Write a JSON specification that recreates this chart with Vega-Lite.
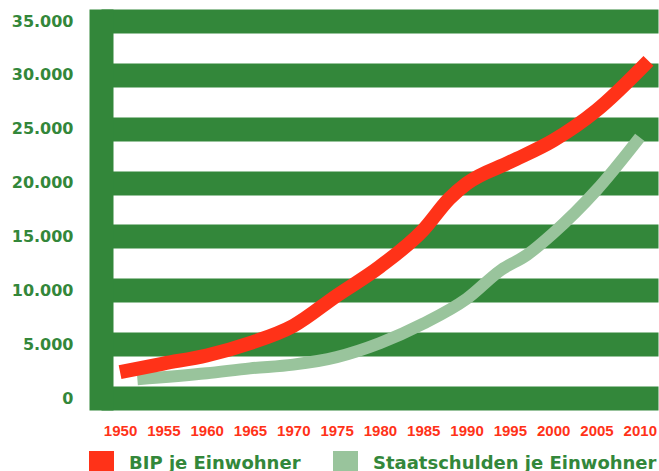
{
  "$schema": "https://vega.github.io/schema/vega-lite/v6.json",
  "width": 557,
  "height": 377,
  "autosize": "none",
  "padding": {"left": 101, "top": 21, "right": 1, "bottom": 73},
  "background": "white",
  "config": {"view": {"stroke": null}},
  "datasets": {
    "bip": [
      {"jahr": 1950, "wert": 2400, "serie": "BIP je Einwohner"},
      {"jahr": 1955, "wert": 3200, "serie": "BIP je Einwohner"},
      {"jahr": 1960, "wert": 3950, "serie": "BIP je Einwohner"},
      {"jahr": 1965, "wert": 5100, "serie": "BIP je Einwohner"},
      {"jahr": 1970, "wert": 6700, "serie": "BIP je Einwohner"},
      {"jahr": 1975, "wert": 9500, "serie": "BIP je Einwohner"},
      {"jahr": 1980, "wert": 12200, "serie": "BIP je Einwohner"},
      {"jahr": 1985, "wert": 15600, "serie": "BIP je Einwohner"},
      {"jahr": 1988, "wert": 18500, "serie": "BIP je Einwohner"},
      {"jahr": 1990, "wert": 19900, "serie": "BIP je Einwohner"},
      {"jahr": 1995, "wert": 21900, "serie": "BIP je Einwohner"},
      {"jahr": 2000, "wert": 23900, "serie": "BIP je Einwohner"},
      {"jahr": 2005, "wert": 26700, "serie": "BIP je Einwohner"},
      {"jahr": 2011, "wert": 31300, "serie": "BIP je Einwohner"}
    ],
    "schulden": [
      {"jahr": 1952, "wert": 1750, "serie": "Staatschulden je Einwohner"},
      {"jahr": 1960, "wert": 2300, "serie": "Staatschulden je Einwohner"},
      {"jahr": 1965, "wert": 2750, "serie": "Staatschulden je Einwohner"},
      {"jahr": 1970, "wert": 3100, "serie": "Staatschulden je Einwohner"},
      {"jahr": 1975, "wert": 3800, "serie": "Staatschulden je Einwohner"},
      {"jahr": 1980, "wert": 5100, "serie": "Staatschulden je Einwohner"},
      {"jahr": 1985, "wert": 6900, "serie": "Staatschulden je Einwohner"},
      {"jahr": 1990, "wert": 9200, "serie": "Staatschulden je Einwohner"},
      {"jahr": 1994, "wert": 11900, "serie": "Staatschulden je Einwohner"},
      {"jahr": 1997, "wert": 13300, "serie": "Staatschulden je Einwohner"},
      {"jahr": 2000, "wert": 15300, "serie": "Staatschulden je Einwohner"},
      {"jahr": 2005, "wert": 19300, "serie": "Staatschulden je Einwohner"},
      {"jahr": 2010, "wert": 24200, "serie": "Staatschulden je Einwohner"}
    ]
  },
  "encoding": {
    "x": {
      "field": "jahr",
      "type": "quantitative",
      "scale": {"domain": [1947.8, 2012.1], "nice": false, "zero": false},
      "axis": {
        "title": null,
        "values": [1950, 1955, 1960, 1965, 1970, 1975, 1980, 1985, 1990, 1995, 2000, 2005, 2010],
        "format": "d",
        "grid": false,
        "domain": false,
        "ticks": false,
        "labelPadding": 25,
        "labelFont": "Liberation Sans",
        "labelFontWeight": "bold",
        "labelFontSize": 15,
        "labelColor": "#FF3218"
      }
    },
    "y": {
      "field": "wert",
      "type": "quantitative",
      "scale": {"domain": [0, 35000], "nice": false},
      "axis": {
        "title": null,
        "values": [0, 5000, 10000, 15000, 20000, 25000, 30000, 35000],
        "labelExpr": "replace(format(datum.value, ','), ',', '.')",
        "grid": true,
        "gridColor": "#33873A",
        "gridWidth": 24,
        "gridOpacity": 1,
        "domain": true,
        "domainColor": "#33873A",
        "domainWidth": 24,
        "domainCap": "square",
        "ticks": false,
        "labelPadding": 28,
        "labelFont": "DejaVu Sans",
        "labelFontWeight": "bold",
        "labelFontSize": 16,
        "labelColor": "#33873A"
      }
    },
    "color": {
      "field": "serie",
      "type": "nominal",
      "scale": {
        "domain": ["BIP je Einwohner", "Staatschulden je Einwohner"],
        "range": ["#FF3218", "#99C49C"]
      },
      "legend": {
        "title": null,
        "orient": "none",
        "legendX": -12,
        "legendY": 430,
        "direction": "horizontal",
        "padding": 0,
        "symbolType": "square",
        "symbolSize": 625,
        "symbolStrokeWidth": 0,
        "labelOffset": 15,
        "columnPadding": 32,
        "labelFont": "DejaVu Sans",
        "labelFontWeight": "bold",
        "labelFontSize": 18,
        "labelColor": "#33873A",
        "labelLimit": 400,
        "encode": {
          "symbols": {
            "update": {
              "fill": {"scale": "color", "field": "value"},
              "stroke": {"value": "transparent"}
            }
          }
        }
      }
    }
  },
  "layer": [
    {
      "data": {"name": "schulden"},
      "mark": {"type": "line", "interpolate": "monotone", "strokeWidth": 12}
    },
    {
      "data": {"name": "bip"},
      "mark": {"type": "line", "interpolate": "monotone", "strokeWidth": 14}
    }
  ]
}
